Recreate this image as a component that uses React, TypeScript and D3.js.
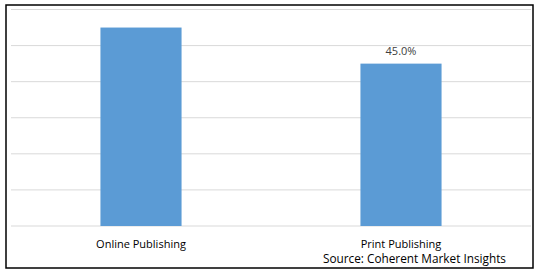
import React from "react";
import * as d3 from "d3";

const categories = ["Online Publishing", "Print Publishing"];
const values = [55, 45];
const showLabel = [false, true];
const gridTicks = [0, 10, 20, 30, 40, 50, 60];
const sourceText = "Source: Coherent Market Insights";

export default function App() {
  const W = 538, H = 272;
  const x = d3.scaleBand<string>().domain(categories).range([11, 531]).paddingInner(0.688).paddingOuter(0.344);
  const y = d3.scaleLinear().domain([0, 60]).range([226, 9.5]);
  const font = "'Open Sans', 'DejaVu Sans', sans-serif";
  return (
    <svg width={W} height={H} style={{ position: "absolute", left: 0, top: 0 }}>
      <rect x={0} y={0} width={W} height={H} fill="#fff" />
      <rect x={6} y={5} width={527} height={263} fill="none" stroke="#000" strokeWidth={1.5} />
      {gridTicks.map((t) => (
        <line key={t} x1={11} x2={531} y1={y(t)} y2={y(t)} stroke="#d9d9d9" strokeWidth={1} />
      ))}
      {categories.map((c, i) => (
        <rect key={c} x={x(c)} y={y(values[i])} width={x.bandwidth()} height={y(0) - y(values[i])} fill="#5b9bd5" />
      ))}
      {categories.map((c, i) =>
        showLabel[i] ? (
          <text key={"l" + c} x={x(c)! + x.bandwidth() / 2} y={y(values[i]) - 9} textAnchor="middle" fontFamily={font} fontSize={11} fill="#404040">
            {values[i].toFixed(1) + "%"}
          </text>
        ) : null
      )}
      {categories.map((c) => (
        <text key={"c" + c} x={x(c)! + x.bandwidth() / 2} y={248} textAnchor="middle" fontFamily={font} fontSize={11} fill="#000">
          {c}
        </text>
      ))}
      <text x={506} y={263} textAnchor="end" fontFamily={font} fontSize={11.8} fill="#000">
        {sourceText}
      </text>
    </svg>
  );
}
